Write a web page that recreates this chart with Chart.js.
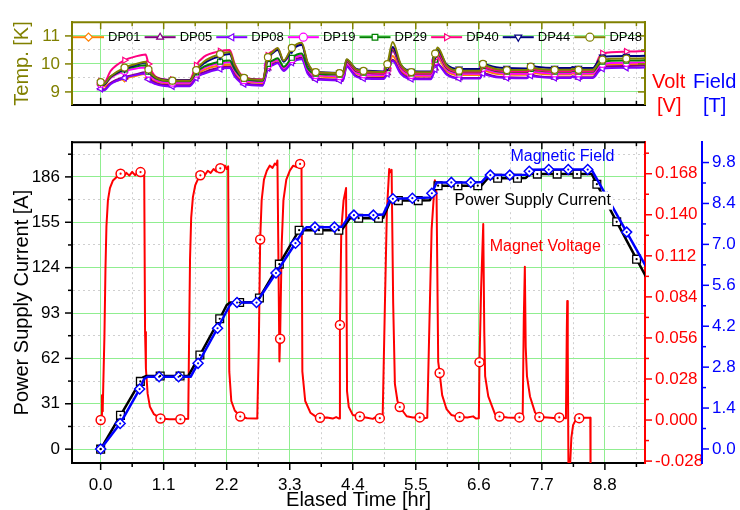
<!DOCTYPE html>
<html>
<head>
<meta charset="utf-8">
<script src="https://cdn.jsdelivr.net/npm/chart.js@4.4.1/dist/chart.umd.min.js"></script>
<style>
  body { margin: 0; background: #fff; }
  #wrap { position: relative; width: 740px; height: 510px; overflow: hidden; }
  #bot { position: absolute; left: 0; top: 120px; }
  #top { position: absolute; left: 0; top: 0; }
</style>
</head>
<body>
<div id="wrap">
  <canvas id="bot" width="740" height="390"></canvas>
  <canvas id="top" width="740" height="127"></canvas>
</div>
<script>
// ---- axis ticks ----
const timeTicks = [0, 1.1, 2.2, 3.3, 4.4, 5.5, 6.6, 7.7, 8.8];
const tempTicks = [9, 10, 11];
const curTicks = [0, 31, 62, 93, 124, 155, 186];
const voltTicks = [-0.028, 0, 0.028, 0.056, 0.084, 0.112, 0.140, 0.168];
const fieldTicks = [0, 1.4, 2.8, 4.2, 5.6, 7.0, 8.4, 9.8];

// ---- temperatures (K) of the sensors, top panel ----
const tempTime = [-0.02, 0, 0.05, 0.175, 0.417, 0.60, 0.785, 0.834, 0.96, 1.251,
  1.553, 1.623, 1.668, 1.80, 2.085, 2.251, 2.34, 2.502, 2.827, 2.919,
  3.00, 3.089, 3.194, 3.336, 3.508, 3.613, 3.753, 4.17, 4.23, 4.293,
  4.45, 4.587, 4.939, 5.004, 5.096, 5.236, 5.421, 5.76, 5.838, 5.881,
  6.038, 6.255, 6.62, 6.672, 6.74, 6.90, 7.089, 7.435, 7.506, 7.60,
  7.923, 8.20, 8.237, 8.34, 8.586, 8.70, 8.757, 9.174, 9.51];
const tempMarkT = [0, 0.417, 0.834, 1.251, 1.668, 2.085, 2.502, 2.919, 3.336, 3.753, 4.17, 4.587,
  5.004, 5.421, 5.838, 6.255, 6.672, 7.089, 7.506, 7.923, 8.34, 8.757, 9.174];

const dp01 = [9.27, 9.26, 9.19, 9.32, 9.48, 9.57, 9.64, 9.50, 9.38, 9.30,
  9.30, 9.45, 9.60, 9.78, 9.95, 9.97, 9.68, 9.38, 9.32, 9.95,
  10.05, 10.12, 9.85, 10.15, 10.30, 9.80, 9.58, 9.52, 9.52, 9.98,
  9.66, 9.60, 9.57, 9.75, 10.28, 9.78, 9.56, 9.55, 10.00, 10.20,
  9.75, 9.60, 9.60, 9.80, 9.74, 9.65, 9.62, 9.61, 9.72, 9.67,
  9.62, 9.62, 9.66, 9.62, 9.62, 9.88, 9.96, 9.99, 10.00];
const dp05 = [9.15, 9.14, 9.08, 9.32, 9.53, 9.62, 9.70, 9.50, 9.32, 9.24,
  9.24, 9.40, 9.55, 9.70, 9.87, 9.90, 9.60, 9.32, 9.25, 9.85,
  9.98, 10.05, 9.77, 10.08, 10.22, 9.70, 9.48, 9.44, 9.44, 9.93,
  9.58, 9.52, 9.50, 9.68, 10.15, 9.70, 9.50, 9.48, 9.85, 10.00,
  9.65, 9.50, 9.50, 9.70, 9.64, 9.55, 9.52, 9.51, 9.62, 9.57,
  9.52, 9.52, 9.56, 9.52, 9.52, 9.82, 9.90, 9.93, 9.94];
const dp08 = [9.12, 9.11, 9.05, 9.28, 9.50, 9.60, 9.66, 9.45, 9.28, 9.20,
  9.20, 9.35, 9.50, 9.65, 9.82, 9.85, 9.55, 9.28, 9.22, 9.85,
  9.95, 10.02, 9.75, 10.04, 10.17, 9.65, 9.45, 9.41, 9.41, 9.90,
  9.55, 9.48, 9.46, 9.65, 10.10, 9.65, 9.46, 9.45, 9.80, 9.97,
  9.62, 9.48, 9.48, 9.66, 9.60, 9.52, 9.50, 9.49, 9.58, 9.54,
  9.50, 9.50, 9.54, 9.50, 9.50, 9.75, 9.83, 9.86, 9.87];
const dp19 = [9.30, 9.29, 9.22, 9.50, 9.75, 9.83, 9.87, 9.65, 9.43, 9.33,
  9.33, 9.50, 9.65, 9.85, 10.03, 10.06, 9.75, 9.42, 9.35, 9.95,
  10.08, 10.15, 9.85, 10.17, 10.30, 9.80, 9.60, 9.56, 9.56, 10.00,
  9.70, 9.63, 9.60, 9.80, 10.45, 9.85, 9.60, 9.59, 10.10, 10.30,
  9.80, 9.65, 9.65, 9.86, 9.80, 9.70, 9.66, 9.65, 9.76, 9.71,
  9.66, 9.66, 9.70, 9.66, 9.66, 9.93, 10.00, 10.04, 10.05];
const dp29 = [9.33, 9.32, 9.25, 9.53, 9.80, 9.90, 9.95, 9.72, 9.48, 9.38,
  9.38, 9.55, 9.70, 9.90, 10.08, 10.12, 9.80, 9.47, 9.40, 10.00,
  10.12, 10.20, 9.90, 10.22, 10.37, 9.85, 9.65, 9.62, 9.62, 10.08,
  9.75, 9.69, 9.66, 9.85, 10.50, 9.90, 9.66, 9.65, 10.15, 10.35,
  9.85, 9.70, 9.70, 9.92, 9.85, 9.75, 9.72, 9.71, 9.82, 9.77,
  9.72, 9.72, 9.76, 9.72, 9.72, 10.00, 10.08, 10.12, 10.13];
const dp40 = [9.38, 9.37, 9.30, 9.75, 10.13, 10.26, 10.34, 10.00, 9.55, 9.43,
  9.43, 9.70, 9.95, 10.25, 10.45, 10.50, 10.00, 9.52, 9.45, 10.30,
  10.45, 10.55, 10.10, 10.55, 10.72, 10.00, 9.70, 9.66, 9.66, 10.10,
  9.78, 9.71, 9.67, 9.85, 10.55, 9.92, 9.67, 9.66, 10.20, 10.40,
  9.88, 9.72, 9.72, 9.93, 9.86, 9.77, 9.74, 9.73, 9.84, 9.79,
  9.74, 9.74, 9.78, 9.74, 9.74, 10.25, 10.38, 10.44, 10.46];
const dp44 = [9.35, 9.34, 9.27, 9.55, 9.82, 9.95, 10.05, 9.78, 9.52, 9.42,
  9.42, 9.58, 9.75, 10.02, 10.28, 10.35, 9.90, 9.50, 9.43, 10.20,
  10.38, 10.50, 10.08, 10.50, 10.68, 10.00, 9.72, 9.68, 9.68, 10.15,
  9.83, 9.77, 9.73, 9.90, 10.60, 9.98, 9.74, 9.73, 10.30, 10.50,
  9.98, 9.82, 9.82, 10.02, 9.97, 9.88, 9.85, 9.84, 9.94, 9.90,
  9.85, 9.85, 9.89, 9.85, 9.85, 10.15, 10.25, 10.28, 10.29];
const dp48 = [9.36, 9.35, 9.28, 9.56, 9.87, 9.99, 10.08, 9.80, 9.52, 9.40,
  9.40, 9.60, 9.78, 10.08, 10.35, 10.43, 9.95, 9.50, 9.43, 10.24,
  10.42, 10.57, 10.12, 10.57, 10.76, 10.05, 9.71, 9.67, 9.67, 10.17,
  9.82, 9.75, 9.71, 9.99, 10.78, 10.00, 9.71, 9.70, 10.37, 10.59,
  9.95, 9.76, 9.76, 10.00, 9.93, 9.82, 9.78, 9.78, 9.90, 9.84,
  9.79, 9.79, 9.83, 9.79, 9.79, 10.05, 10.15, 10.19, 10.20];

// ---- power supply current (A) ----
const curT = [0, 0.346, 0.693, 0.74, 0.80, 1.039, 1.386, 1.53, 1.732, 2.078,
  2.20, 2.26, 2.425, 2.72, 2.771, 3.118, 3.464, 3.810, 4.157, 4.21,
  4.35, 4.503, 4.850, 4.93, 5.06, 5.196, 5.542, 5.746, 5.863, 5.889,
  6.235, 6.582, 6.648, 6.758, 6.928, 7.274, 7.421, 7.49, 7.621, 7.967,
  8.314, 8.57, 8.660, 9.006, 9.353, 9.55];
const curA = [0, 23.1, 46.3, 49.0, 50.0, 50.0, 50.0, 50.0, 64.3, 89.1,
  98.5, 100.2, 100.2, 100.5, 103.3, 126.4, 149.6, 149.6, 149.6, 149.8,
  157.8, 157.8, 157.8, 158.0, 169.8, 169.8, 169.8, 170.0, 180.0, 180.0,
  180.0, 180.0, 180.2, 185.1, 185.1, 185.1, 185.3, 187.9, 187.9, 187.9,
  187.9, 188.0, 181.0, 155.3, 129.8, 115.5];
const curMarkT = [0, 0.346, 0.693, 1.039, 1.386, 1.732, 2.078, 2.425, 2.771, 3.118, 3.464, 3.810,
  4.157, 4.503, 4.850, 5.196, 5.542, 5.889, 6.235, 6.582, 6.928, 7.274, 7.621, 7.967, 8.314,
  8.660, 9.006, 9.353];

// ---- magnetic field (T) ----
const fieldT = [0, 0.340, 0.680, 0.76, 0.82, 1.020, 1.360, 1.57, 1.700, 2.040,
  2.25, 2.30, 2.380, 2.720, 3.060, 3.400, 3.55, 3.60, 3.740, 4.080,
  4.21, 4.35, 4.420, 4.760, 4.93, 5.06, 5.100, 5.440, 5.746, 5.780,
  5.863, 6.120, 6.460, 6.648, 6.758, 6.800, 7.140, 7.42, 7.480, 7.50,
  7.820, 8.160, 8.500, 8.57, 8.840, 9.180, 9.55];
const fieldB = [0, 0.87, 2.05, 2.40, 2.47, 2.47, 2.47, 2.47, 2.93, 4.13,
  4.90, 5.01, 5.01, 5.01, 6.02, 7.04, 7.52, 7.59, 7.59, 7.59,
  7.60, 8.00, 8.00, 8.00, 8.02, 8.56, 8.56, 8.58, 8.60, 8.75,
  9.12, 9.12, 9.12, 9.13, 9.37, 9.37, 9.37, 9.38, 9.50, 9.55,
  9.56, 9.56, 9.56, 9.55, 8.61, 7.42, 6.13];
const fieldMarkT = [0, 0.340, 0.680, 1.020, 1.360, 1.700, 2.040, 2.380, 2.720, 3.060, 3.400, 3.740,
  4.080, 4.420, 4.760, 5.100, 5.440, 5.780, 6.120, 6.460, 6.800, 7.140, 7.480, 7.820, 8.160,
  8.500, 8.840, 9.180];

// ---- magnet voltage (V) ----
const voltT = [0.000, 0.014, 0.023, 0.030, 0.037, 0.066, 0.084, 0.101, 0.127, 0.162,
  0.215, 0.284, 0.348, 0.400, 0.450, 0.500, 0.550, 0.600, 0.650, 0.696,
  0.745, 0.760, 0.775, 0.790, 0.820, 0.860, 0.930, 1.044, 1.200, 1.392,
  1.528, 1.545, 1.560, 1.580, 1.610, 1.650, 1.700, 1.740, 1.780, 1.820,
  1.870, 1.920, 1.970, 2.020, 2.050, 2.088, 2.130, 2.170, 2.200, 2.225,
  2.245, 2.280, 2.340, 2.436, 2.550, 2.733, 2.760, 2.784, 2.810, 2.850,
  2.900, 2.950, 3.000, 3.040, 3.070, 3.085, 3.100, 3.120, 3.132, 3.160,
  3.190, 3.240, 3.300, 3.360, 3.420, 3.480, 3.505, 3.520, 3.570, 3.660,
  3.750, 3.828, 3.950, 4.050, 4.110, 4.163, 4.176, 4.200, 4.240, 4.283,
  4.300, 4.330, 4.400, 4.524, 4.650, 4.750, 4.800, 4.872, 4.921, 4.960,
  4.995, 5.036, 5.058, 5.078, 5.105, 5.135, 5.180, 5.220, 5.340, 5.450,
  5.568, 5.650, 5.700, 5.740, 5.776, 5.833, 5.862, 5.891, 5.916, 5.960,
  6.037, 6.120, 6.264, 6.400, 6.500, 6.550, 6.600, 6.612, 6.640, 6.677,
  6.695, 6.710, 6.765, 6.882, 6.960, 7.100, 7.200, 7.308, 7.365, 7.385,
  7.403, 7.418, 7.440, 7.493, 7.580, 7.656, 7.800, 7.900, 8.004, 8.120,
  8.135, 8.143, 8.152, 8.165, 8.185, 8.195, 8.215, 8.245, 8.290, 8.352,
  8.450, 8.545, 8.550];
const voltV = [0.0000, 0.0000, 0.0169, 0.0060, 0.0085, 0.0573, 0.1029, 0.1322, 0.1498, 0.1582,
  0.1634, 0.1660, 0.1680, 0.1660, 0.1686, 0.1667, 0.1693, 0.1670, 0.1688, 0.1691,
  0.1700, 0.1690, 0.0600, 0.0350, 0.0180, 0.0090, 0.0040, 0.0010, 0.0005, 0.0005,
  0.0008, 0.0600, 0.1100, 0.1380, 0.1520, 0.1600, 0.1645, 0.1669, 0.1690, 0.1672,
  0.1700, 0.1685, 0.1712, 0.1695, 0.1720, 0.1717, 0.1705, 0.1735, 0.1712, 0.1730,
  0.0330, 0.0130, 0.0065, 0.0024, 0.0012, 0.0010, 0.0500, 0.1231, 0.1500, 0.1640,
  0.1700, 0.1735, 0.1720, 0.1750, 0.1740, 0.1770, 0.1200, 0.0400, 0.0555, 0.1200,
  0.1500, 0.1640, 0.1700, 0.1735, 0.1725, 0.1747, 0.1760, 0.0332, 0.0130, 0.0050,
  0.0025, 0.0015, 0.0018, 0.0010, 0.0020, 0.0010, 0.0649, 0.1300, 0.1500, 0.1582,
  0.0195, 0.0090, 0.0035, 0.0024, 0.0015, 0.0008, 0.0020, 0.0013, 0.0012, 0.0770,
  0.1420, 0.1713, 0.1690, 0.1706, 0.0800, 0.0247, 0.0130, 0.0089, 0.0026, 0.0018,
  0.0018, 0.0013, 0.0015, 0.0700, 0.1300, 0.1636, 0.1550, 0.0399, 0.0321, 0.0170,
  0.0074, 0.0035, 0.0020, 0.0018, 0.0025, 0.0010, 0.0012, 0.0395, 0.0900, 0.1337,
  0.0600, 0.0300, 0.0161, 0.0041, 0.0024, 0.0018, 0.0015, 0.0018, 0.0015, 0.0700,
  0.1046, 0.0500, 0.0300, 0.0161, 0.0052, 0.0020, 0.0018, 0.0014, 0.0018, 0.0012,
  0.0600, 0.0812, 0.0500, -0.0400, -0.0400, -0.0290, -0.0120, -0.0035, 0.0000, 0.0013,
  0.0016, 0.0015, -0.0400];
const voltMarkT = [0, 0.348, 0.696, 1.044, 1.392, 1.740, 2.088, 2.436, 2.784, 3.132, 3.480, 3.828,
  4.176, 4.524, 4.872, 5.220, 5.568, 5.916, 6.264, 6.612, 6.960, 7.308, 7.656, 8.004, 8.352];

const FONT = "'Liberation Sans', Arial, sans-serif";
Chart.defaults.font.family = FONT;
Chart.defaults.color = '#000';

const GREEN = '#90ee90';
const MINOR = '#cfcfcf';
const OLIVE = '#808000';

// major ticks plus half-step minor ticks inside the axis range
function tickList(major, lo, hi) {
  const half = (major[1] - major[0]) / 2;
  const list = major.map(v => ({ value: v }));
  for (let v = major[0] - half; v <= hi + 1e-9; v += 2 * half) {
    if (v >= lo) list.push({ value: +v.toFixed(4), minor: true });
  }
  return list.sort((a, b) => a.value - b.value);
}
function labelFmt(digits) {
  return function (v, i, ticks) { return ticks[i].minor ? '' : v.toFixed(digits); };
}
const gridColor = ctx => (ctx.tick && ctx.tick.minor ? MINOR : GREEN);
const gridDash = ctx => (ctx.tick && ctx.tick.minor ? [2, 3] : []);

function tickMarks(ctx, scale, at, dir, color) {
  ctx.strokeStyle = color;
  ctx.lineWidth = 1.5;
  scale.ticks.forEach(t => {
    const p = scale.getPixelForValue(t.value);
    const len = t.minor ? 4 : 7;
    ctx.beginPath();
    if (scale.isHorizontal()) { ctx.moveTo(p, at); ctx.lineTo(p, at + dir * len); }
    else { ctx.moveTo(at, p); ctx.lineTo(at + dir * len, p); }
    ctx.stroke();
  });
}
const pts = (xs, ys) => xs.map((x, i) => ({ x: x, y: ys[i] }));

// ================= top panel: temperatures =================
const tempSeries = [
  { label: 'DP01', data: dp01, color: '#ff8000', style: 'rectRot', rot: 0 },
  { label: 'DP05', data: dp05, color: '#800080', style: 'triangle', rot: 0 },
  { label: 'DP08', data: dp08, color: '#8000ff', style: 'triangle', rot: -90 },
  { label: 'DP19', data: dp19, color: '#ff00ff', style: 'circle', rot: 0 },
  { label: 'DP29', data: dp29, color: '#008000', style: 'rect', rot: 0 },
  { label: 'DP40', data: dp40, color: '#ff0080', style: 'triangle', rot: 90 },
  { label: 'DP44', data: dp44, color: '#000080', style: 'triangle', rot: 180 },
  { label: 'DP48', data: dp48, color: OLIVE, style: 'circle', rot: 0 }
];

const topDecor = {
  id: 'topDecor',
  afterDraw(chart) {
    const ctx = chart.ctx, a = chart.chartArea, s = chart.scales;
    ctx.save();
    ctx.strokeStyle = OLIVE; ctx.lineWidth = 2;
    ctx.beginPath(); ctx.moveTo(a.left, a.top); ctx.lineTo(a.right, a.top); ctx.stroke();
    tickMarks(ctx, s.x, a.top, 1, OLIVE);
    tickMarks(ctx, s.x, a.bottom, -1, '#000');
    tickMarks(ctx, s.y, a.left, -1, OLIVE);
    tickMarks(ctx, s.y, a.right, -1, OLIVE);

    // legend row inside the plot
    const step = (a.right - a.left) / tempSeries.length;
    const ly = a.top + 15;
    ctx.font = '13px ' + FONT;
    ctx.textBaseline = 'middle'; ctx.textAlign = 'left';
    tempSeries.forEach((sr, i) => {
      const x0 = a.left + 1 + i * step;
      ctx.strokeStyle = sr.color; ctx.lineWidth = 2;
      ctx.beginPath(); ctx.moveTo(x0, ly); ctx.lineTo(x0 + 31, ly); ctx.stroke();
      ctx.fillStyle = '#fff'; ctx.lineWidth = 1.2;
      Chart.helpers.drawPoint(ctx, { pointStyle: sr.style, rotation: sr.rot, radius: 4, borderWidth: 1.2 }, x0 + 15.5, ly);
      ctx.fillStyle = '#000';
      ctx.fillText(sr.label, x0 + 35, ly + 0.5);
    });

    // titles of the two right-hand axes of the lower panel
    ctx.font = '20px ' + FONT;
    ctx.fillStyle = '#ff0000'; ctx.fillText('Volt', 652, 82); ctx.fillText('[V]', 657, 106);
    ctx.fillStyle = '#0000ff'; ctx.fillText('Field', 693, 82); ctx.fillText('[T]', 703, 106);
    ctx.restore();
  }
};

new Chart(document.getElementById('top'), {
  type: 'line',
  data: {
    datasets: tempSeries.map((sr, i) => ({
      label: sr.label,
      data: pts(tempTime, sr.data),
      borderColor: sr.color,
      backgroundColor: '#fff',
      borderWidth: 2,
      cubicInterpolationMode: 'monotone',
      pointStyle: sr.style,
      pointRotation: sr.rot,
      pointRadius: ctx => (tempMarkT.includes(tempTime[ctx.dataIndex]) ? 3.5 : 0),
      pointBorderColor: sr.color,
      pointBackgroundColor: '#fff',
      pointBorderWidth: 1.2,
      order: tempSeries.length - i
    }))
  },
  options: {
    responsive: false, animation: false, devicePixelRatio: 1, events: [],
    layout: { padding: { top: 13, bottom: 1, left: 0, right: 0 } },
    plugins: { legend: { display: false }, tooltip: { enabled: false } },
    scales: {
      x: {
        type: 'linear', position: 'bottom', min: -0.5, max: 9.5,
        afterBuildTicks: sc => { sc.ticks = tickList(timeTicks, sc.min, sc.max); },
        afterFit: sc => { sc.height = 0; },
        ticks: { display: false, autoSkip: false },
        grid: { color: gridColor, drawTicks: false, lineWidth: 1 },
        border: { color: '#000', width: 2, dash: gridDash }
      },
      y: {
        position: 'left', min: 8.54, max: 11.49,
        afterBuildTicks: sc => { sc.ticks = tickList(tempTicks, sc.min, sc.max); },
        afterFit: sc => { sc.width = 72; },
        ticks: { color: OLIVE, font: { size: 17 }, padding: 12, autoSkip: false, callback: labelFmt(0) },
        grid: { color: gridColor, drawTicks: false, lineWidth: 1 },
        border: { color: OLIVE, width: 2, dash: gridDash },
        title: { display: true, text: 'Temp. [K]', color: OLIVE, font: { size: 20 }, padding: { top: 10, bottom: 0 } }
      },
      y2: {
        position: 'right', min: 8.54, max: 11.49,
        afterBuildTicks: sc => { sc.ticks = tickList(tempTicks, sc.min, sc.max); },
        afterFit: sc => { sc.width = 95; },
        ticks: { display: false },
        grid: { drawOnChartArea: false, drawTicks: false },
        border: { color: OLIVE, width: 2 }
      }
    }
  },
  plugins: [topDecor]
});

// ================= bottom panel: current, field, voltage =================
const botDecor = {
  id: 'botDecor',
  afterDatasetsDraw(chart) {
    // small centre dot inside every hollow marker
    const ctx = chart.ctx;
    ctx.save();
    chart.data.datasets.forEach((ds, i) => {
      chart.getDatasetMeta(i).data.forEach(el => {
        if (el.options.radius > 0) {
          ctx.fillStyle = ds.pointBorderColor;
          ctx.beginPath(); ctx.arc(el.x, el.y, 1.1, 0, Math.PI * 2); ctx.fill();
        }
      });
    });
    ctx.restore();
  },
  afterDraw(chart) {
    const ctx = chart.ctx, a = chart.chartArea, s = chart.scales;
    ctx.save();
    ctx.strokeStyle = '#000'; ctx.lineWidth = 2;
    ctx.beginPath(); ctx.moveTo(a.left, a.top); ctx.lineTo(a.right, a.top); ctx.stroke();
    tickMarks(ctx, s.x, a.bottom, 1, '#000');
    tickMarks(ctx, s.x, a.top, 1, '#000');
    tickMarks(ctx, s.yI, a.left, -1, '#000');
    tickMarks(ctx, s.yV, s.yV.left, 1, '#ff0000');
    tickMarks(ctx, s.yB, s.yB.left, 1, '#0000ff');

    ctx.font = '16px ' + FONT;
    ctx.textAlign = 'center'; ctx.textBaseline = 'middle';
    const note = (txt, t, amps, color, boxed) => {
      const x = s.x.getPixelForValue(t), y = s.yI.getPixelForValue(amps);
      if (boxed) {
        const w = ctx.measureText(txt).width + 4;
        ctx.fillStyle = '#fff'; ctx.fillRect(x - w / 2, y - 9, w, 18);
      }
      ctx.fillStyle = color; ctx.fillText(txt, x, y);
    };
    note('Magnetic Field', 8.06, 199.6, '#0000ff');
    note('Power Supply Current', 7.54, 169.8, '#000', true);
    note('Magnet Voltage', 7.76, 138.7, '#ff0000');
    ctx.restore();
  }
};

new Chart(document.getElementById('bot'), {
  type: 'line',
  data: {
    datasets: [
      {
        label: 'Magnetic Field', yAxisID: 'yB',
        data: pts(fieldT, fieldB),
        borderColor: '#0000ff', borderWidth: 2.5, borderJoinStyle: 'round',
        pointStyle: 'rectRot',
        pointRadius: ctx => (fieldMarkT.includes(fieldT[ctx.dataIndex]) ? 5 : 0),
        pointBorderColor: '#0000ff', pointBackgroundColor: '#fff', pointBorderWidth: 1.5
      },
      {
        label: 'Power Supply Current', yAxisID: 'yI',
        data: pts(curT, curA),
        borderColor: '#000', borderWidth: 2.5, borderJoinStyle: 'round',
        pointStyle: 'rect',
        pointRadius: ctx => (curMarkT.includes(curT[ctx.dataIndex]) ? 5.5 : 0),
        pointBorderColor: '#000', pointBackgroundColor: '#fff', pointBorderWidth: 1.3
      },
      {
        label: 'Magnet Voltage', yAxisID: 'yV',
        data: pts(voltT, voltV),
        borderColor: '#ff0000', borderWidth: 2, borderJoinStyle: 'round',
        pointStyle: 'circle',
        pointRadius: ctx => (voltMarkT.includes(voltT[ctx.dataIndex]) ? 4.5 : 0),
        pointBorderColor: '#ff0000', pointBackgroundColor: '#fff', pointBorderWidth: 1.5
      }
    ]
  },
  options: {
    responsive: false, animation: false, devicePixelRatio: 1, events: [],
    layout: { padding: { top: 7, bottom: 0, left: 0, right: 0 } },
    plugins: { legend: { display: false }, tooltip: { enabled: false } },
    scales: {
      x: {
        type: 'linear', position: 'bottom', min: -0.5, max: 9.5,
        afterBuildTicks: sc => { sc.ticks = tickList(timeTicks, sc.min, sc.max); },
        afterFit: sc => { sc.height = 47; },
        ticks: { font: { size: 17 }, padding: 12, autoSkip: false, maxRotation: 0, callback: labelFmt(1) },
        grid: { color: gridColor, drawTicks: false, lineWidth: 1 },
        border: { color: '#000', width: 2, dash: gridDash },
        title: { display: true, text: 'Elased Time [hr]', font: { size: 20 }, padding: { top: 0, bottom: -2 } }
      },
      yI: {
        position: 'left', min: -9.46, max: 209.7,
        afterBuildTicks: sc => { sc.ticks = tickList(curTicks, sc.min, sc.max); },
        afterFit: sc => { sc.width = 72; },
        ticks: { font: { size: 17 }, padding: 12, autoSkip: false, callback: labelFmt(0) },
        grid: { color: gridColor, drawTicks: false, lineWidth: 1 },
        border: { color: '#000', width: 2, dash: gridDash },
        title: { display: true, text: 'Power Supply Current [A]', font: { size: 20 }, padding: { top: 10, bottom: 0 } }
      },
      yV: {
        position: 'right', min: -0.0293, max: 0.1895,
        afterBuildTicks: sc => { sc.ticks = tickList(voltTicks, sc.min, sc.max); },
        afterFit: sc => { sc.width = 57; },
        ticks: { color: '#ff0000', font: { size: 17 }, padding: 10, autoSkip: false, callback: labelFmt(3) },
        grid: { drawOnChartArea: false, drawTicks: false },
        border: { color: '#ff0000', width: 2 }
      },
      yB: {
        position: 'right', min: -0.48, max: 10.496,
        afterBuildTicks: sc => { sc.ticks = tickList(fieldTicks, sc.min, sc.max); },
        afterFit: sc => { sc.width = 38; },
        ticks: { color: '#0000ff', font: { size: 17 }, padding: 10, autoSkip: false, callback: labelFmt(1) },
        grid: { drawOnChartArea: false, drawTicks: false },
        border: { color: '#0000ff', width: 2 }
      }
    }
  },
  plugins: [botDecor]
});
</script>
</body>
</html>
